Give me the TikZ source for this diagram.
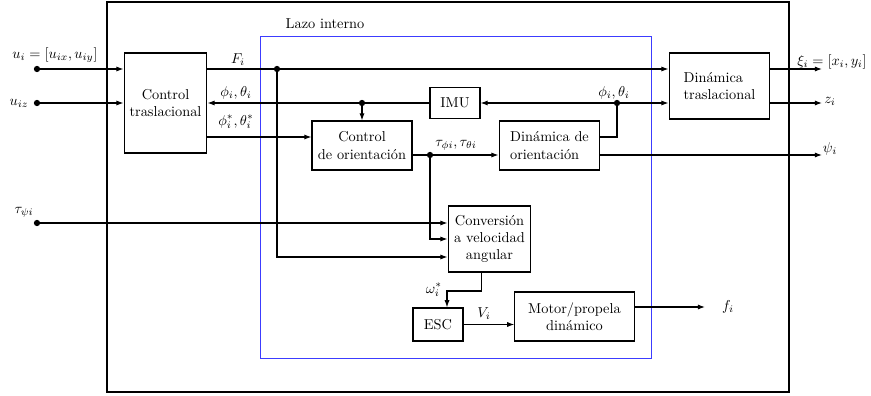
\documentclass[tikz,border=0pt]{standalone}
\usepackage{tikz}
\usetikzlibrary{calc,arrows.meta}
\definecolor{lazo}{RGB}{60,60,255}

\begin{document}
\begin{tikzpicture}[x=0.0245cm, y=-0.0245cm,
    block/.style={draw, thick, align=center, inner sep=1pt},
    signal/.style={thick, -{Latex[length=5pt,width=3.6pt]}},
    wire/.style={thick},
    dot/.style={circle, fill, inner sep=0pt, minimum size=4.4pt}]
    \useasboundingbox (0,0) rectangle (871,396);

    % Outer frame and inner loop
    \draw[thick] (107,2) rectangle (789,392);
    \draw[lazo, semithick] (260,36) rectangle (651,358);
    \node (lazo) at (325,24) {Lazo interno};

    % Blocks
    \node[block, minimum width=2.03cm, minimum height=2.45cm] (ct) at (165.5,103) {Control\\traslacional};
    \node[block, minimum width=2.45cm, minimum height=1.2cm] (co) at (362,145.5) {Control\\de orientaci\'on};
    \node[block, minimum width=1.225cm, minimum height=0.78cm] (imu) at (455,103) {IMU};
    \node[block, align=left, minimum width=2.47cm, minimum height=1.2cm] (do) at (549.5,145.5) {Din\'amica de\\orientaci\'on};
    \node[block, align=left, minimum width=2.47cm, minimum height=1.62cm] (dt) at (719.5,86) {Din\'amica\\traslacional};
    \node[block, minimum width=2.03cm, minimum height=1.62cm] (cv) at (489.5,239) {Conversi\'on\\a velocidad\\angular};
    \node[block, minimum width=1.225cm, minimum height=0.81cm] (esc) at (438,324.5) {ESC};
    \node[block, minimum width=2.92cm, minimum height=1.2cm] (mp) at (574.5,316.5) {Motor/propela\\din\'amico};

    % Junctions and free ends
    \node[dot] (ui) at (37,69) {};
    \node[dot] (uiz) at (37,103) {};
    \node[dot] (tpsi) at (37,223) {};
    \node[dot] (jF) at (277,69) {};
    \node[dot] (jA) at (362,103) {};
    \node[dot] (jB) at (617,103) {};
    \node[dot] (jT) at (430,155) {};
    \coordinate (ref) at (0,137);
    \coordinate (cvA) at (cv.west |- tpsi);
    \coordinate (cvC) at ($(cv.west)+(0,18)$);
    \coordinate (doA) at (do.east |- ref);
    \coordinate (doB) at (do.east |- jT);
    \coordinate (xi) at (822,69);
    \coordinate (zi) at (822,103);
    \coordinate (psi) at (822,155);
    \coordinate (w) at (447,291);
    \coordinate (fi) at (705,307);

    % Signals
    \draw[signal] (ui) -- (ui -| ct.west);
    \draw[signal] (uiz) -- (uiz -| ct.west);
    \draw[signal] (tpsi) -- (cvA);
    \draw[signal] (ct.east |- jF) -- (dt.west |- jF);
    \draw[signal] (jF) |- (cvC);
    \draw[signal] (imu.west) -- (ct.east |- imu.west);
    \draw[signal] (jA) -- (co.north);
    \draw[signal] (ct.east |- ref) -- (co.west |- ref);
    \draw[signal] (co.east |- jT) -- (do.west |- jT);
    \draw[signal] (jT) |- (cv.west);
    \draw[wire] (doA) -| (jB);
    \draw[signal] (jB) -- (imu.east);
    \draw[signal] (jB) -- (dt.west |- jB);
    \draw[signal] (doB) -- (psi);
    \draw[signal] (dt.east |- jF) -- (xi);
    \draw[signal] (dt.east |- jB) -- (zi);
    \draw[signal] ($(cv.south)+(-8,0)$) |- (w) -- (w |- esc.north);
    \draw[signal] (esc.east) -- (esc.east -| mp.west);
    \draw[signal] (mp.east |- fi) -- (fi);

    % Labels
    \node (lui) at (55,55) {$u_i=[u_{ix},u_{iy}]$};
    \node (luiz) at (19,103) {$u_{iz}$};
    \node (ltpsi) at (24,212) {$\tau_{\psi i}$};
    \node (lF) at (238,60) {$F_i$};
    \node (lpt) at (236,93) {$\phi_i,\theta_i$};
    \node (lpts) at (236,122) {$\phi_i^*,\theta_i^*$};
    \node (ltau) at (456,145) {$\tau_{\phi i},\tau_{\theta i}$};
    \node (lpt2) at (614,93) {$\phi_i,\theta_i$};
    \node (lxi) at (832,62) {$\xi_i=[x_i,y_i]$};
    \node (lzi) at (830,101) {$z_i$};
    \node (lpsi) at (830,149) {$\psi_i$};
    \node (lw) at (434,290) {$\omega_i^*$};
    \node (lV) at (484,314) {$V_i$};
    \node (lf) at (728,307) {$f_i$};
\end{tikzpicture}
\end{document}
